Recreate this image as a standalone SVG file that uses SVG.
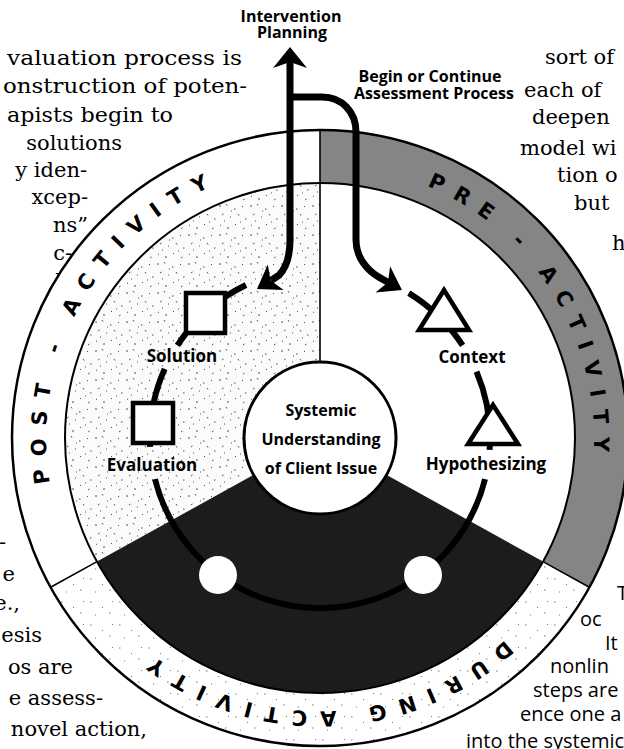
<svg xmlns="http://www.w3.org/2000/svg" width="624" height="749" viewBox="0 0 624 749">
<defs>
<style>
.body{font-family:"DejaVu Serif","Liberation Serif",serif;font-size:21px;fill:#000}
.cap{font-family:"Open Sans","Liberation Sans",sans-serif;font-size:20px;fill:#000}
.lbl{font-family:"Open Sans","Liberation Sans",sans-serif;font-weight:700;fill:#000;text-anchor:middle}
.ring{font-family:"DejaVu Sans","Liberation Sans",sans-serif;font-weight:700;font-size:21px;fill:#000}
.loop{fill:none;stroke:#000;stroke-width:6}
.arrow{fill:none;stroke:#000;stroke-width:7}
.head{fill:#000;stroke:none}
.node{fill:#fff;stroke:#000;stroke-width:4.5}
.thin{fill:none;stroke:#000;stroke-width:1.6}
</style>
<pattern id="stip" width="31" height="29" patternUnits="userSpaceOnUse">
<rect width="31" height="29" fill="#fbfbfb"/>
<path d="M2 3h2M9 1l1 1.5M17 6h1.5M25 3l1 1M5 12l1.5-1M13 14h1M21 11l1 1.5M28 16h1.5M3 22l1 .5M10 25h2M18 21l1 1M26 26l1.5-1M14 8h1M7 18h1M23 19h1" stroke="#3a3a3a" stroke-width="0.9"/>
</pattern>
<pattern id="stip2" width="29" height="23" patternUnits="userSpaceOnUse">
<rect width="29" height="23" fill="#fff"/>
<path d="M3 4h1.5M15 9l1 1M8 17h1M22 15h1.5M25 3l1 1" stroke="#555" stroke-width="0.8"/>
</pattern>
<path id="tPost" d="M49.8,483.2 A274,274 0 0 1 212.9,185.8"/>
<path id="tPre" d="M427.1,185.8 A274,274 0 0 1 593.5,454.7"/>
<path id="tDur" d="M505.1,640.0 A276,276 0 0 1 154.3,656.2"/>
</defs>

<g id="page-text">
<text class="body" text-anchor="end" x="242" y="65" textLength="235" lengthAdjust="spacingAndGlyphs">valuation process is</text>
<text class="body" text-anchor="end" x="247" y="93" textLength="244" lengthAdjust="spacingAndGlyphs">onstruction of poten-</text>
<text class="body" text-anchor="end" x="173" y="122" textLength="166" lengthAdjust="spacingAndGlyphs">apists begin to</text>
<text class="body" text-anchor="end" x="122" y="150">solutions</text>
<text class="body" text-anchor="end" x="87" y="177">y iden-</text>
<text class="body" text-anchor="end" x="88" y="204">xcep-</text>
<text class="body" text-anchor="end" x="88" y="232">ns”</text>
<text class="body" text-anchor="end" x="72" y="260">c-</text>
<text class="body" text-anchor="end" x="62" y="288">l</text>
<text class="body" text-anchor="end" x="6" y="549">-</text>
<text class="body" text-anchor="end" x="15" y="581">e</text>
<text class="body" text-anchor="end" x="20" y="610">e.,</text>
<text class="body" text-anchor="end" x="42" y="642">esis</text>
<text class="body" text-anchor="end" x="73" y="674">os are</text>
<text class="body" text-anchor="end" x="103" y="705">e assess-</text>
<text class="body" text-anchor="end" x="147" y="736">novel action,</text>
<text class="body" x="545" y="64">sort of</text>
<text class="body" x="524" y="97">each of</text>
<text class="body" x="532" y="124">deepen</text>
<text class="body" x="520" y="155">model wi</text>
<text class="body" x="557" y="182">tion o</text>
<text class="body" x="574" y="210">but</text>
<text class="body" x="612" y="250">h</text>
<text class="cap" x="617" y="600">T</text>
<text class="cap" x="580" y="626">oc</text>
<text class="cap" x="605" y="650">It</text>
<text class="cap" x="550" y="673">nonlin</text>
<text class="cap" x="533" y="697">steps are</text>
<text class="cap" x="520" y="721">ence one a</text>
<text class="cap" x="466" y="748">into the systemic</text>
</g>

<g id="wheel">
<circle cx="320" cy="438" r="308" fill="#fff"/>
<path id="ring-pre" d="M320,130 A308,308 0 0 1 589.4,587.3 L543,561.6 A255,255 0 0 0 320,183 Z" fill="#858585"/>
<path id="ring-during" d="M589.4,587.3 A308,308 0 0 1 50.6,587.3 L97,561.6 A255,255 0 0 0 543,561.6 Z" fill="url(#stip2)"/>
<path id="sector-post" d="M320,183 A255,255 0 0 0 97,561.6 L320,438 Z" fill="url(#stip)"/>
<path id="sector-during" d="M97,561.6 A255,255 0 0 0 543,561.6 L320,438 Z" fill="#1c1c1c"/>
<circle cx="320" cy="438" r="308" fill="none" stroke="#000" stroke-width="2.5"/>
<circle cx="320" cy="438" r="255" fill="none" stroke="#000" stroke-width="2"/>
<path class="thin" d="M320,130 V362 M543,561.6 L589.4,587.3 M97,561.6 L50.6,587.3"/>
<text class="ring"><textPath href="#tPost" textLength="362" lengthAdjust="spacing">POST - ACTIVITY</textPath></text>
<text class="ring"><textPath href="#tPre" textLength="334" lengthAdjust="spacing">PRE - ACTIVITY</textPath></text>
<text class="ring"><textPath href="#tDur" textLength="380" lengthAdjust="spacing">DURING ACTIVITY</textPath></text>
</g>

<g id="connectors">
<path class="loop" d="M408.8,293.1 A170,170 0 0 1 462.6,345.4 M476.5,371.6 A170,170 0 0 1 489.6,449.9 M485,479.1 A170,170 0 0 1 155,479.1 M150.2,446.9 A170,170 0 0 1 164.7,368.9 M177.4,345.4 A170,170 0 0 1 246,285"/>
<path class="arrow" d="M290,60 V240 C290,258 286,268 279,275.2 L271,280.5"/>
<path class="head" d="M257,289 L283.7,290 L270.6,280.5 L267.8,264.6 Z"/>
<path class="arrow" d="M287,97 H322 C342,97 356,112 356,132 V240 C356,258 368,271 379.3,277.4 L388,282.2"/>
<path class="head" d="M402,290 L375.5,292.4 L388,282.2 L390.1,266.2 Z"/>
<path class="head" d="M290,47 L307,68 L290,62 L273,68 Z"/>
</g>

<g id="label-intervention">
<text class="lbl" font-size="16" x="291" y="22">Intervention</text>
<text class="lbl" font-size="16" x="292" y="38">Planning</text>
</g>
<g id="label-begin">
<text class="lbl" font-size="16" x="430" y="82">Begin or Continue</text>
<text class="lbl" font-size="16" x="434" y="99">Assessment Process</text>
</g>

<g id="node-center">
<circle cx="320" cy="438" r="76" fill="#fff" stroke="#000" stroke-width="3"/>
<text class="lbl" font-size="16" x="321" y="416">Systemic</text>
<text class="lbl" font-size="16" x="321" y="445">Understanding</text>
<text class="lbl" font-size="16" x="321" y="474">of Client Issue</text>
</g>
<g id="node-solution">
<rect class="node" x="186" y="293" width="39" height="40"/>
<text class="lbl" font-size="17" x="182" y="362">Solution</text>
</g>
<g id="node-evaluation">
<rect class="node" x="133" y="403" width="40" height="40"/>
<text class="lbl" font-size="17" x="152" y="471">Evaluation</text>
</g>
<g id="node-context">
<path class="node" d="M444,290 L469,330 L419,330 Z"/>
<text class="lbl" font-size="17" font-weight="600" x="472" y="363">Context</text>
</g>
<g id="node-hypothesizing">
<path class="node" d="M493,405 L518,444 L468,444 Z"/>
<text class="lbl" font-size="17" font-weight="600" x="486" y="470">Hypothesizing</text>
</g>
<g id="node-dot-left"><circle cx="218" cy="575" r="19" fill="#fff"/></g>
<g id="node-dot-right"><circle cx="423" cy="575" r="19" fill="#fff"/></g>
</svg>
